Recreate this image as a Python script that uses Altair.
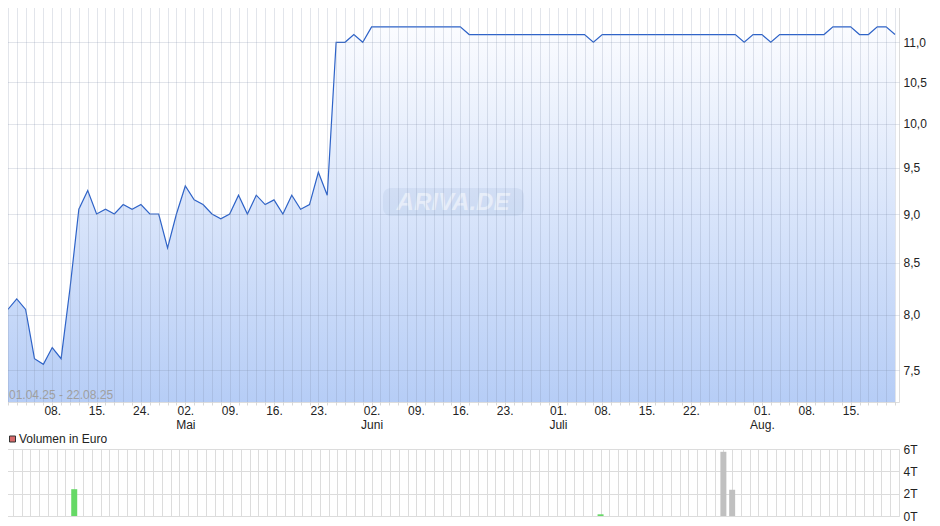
import altair as alt
import pandas as pd

# ---- data ----
price = [8.05, 8.15, 8.05, 7.60, 7.55, 7.70, 7.60, 8.25, 9.05, 9.25,
         9.00, 9.05, 9.00, 9.10, 9.05, 9.10, 9.00, 9.00, 8.65, 9.00,
         9.30, 9.15, 9.10, 9.00, 8.95, 9.00, 9.20, 9.00, 9.20, 9.10,
         9.15, 9.00, 9.20, 9.05, 9.10, 9.45, 9.20, 11.00, 11.00, 11.10,
         11.00, 11.20, 11.20, 11.20, 11.20, 11.20, 11.20, 11.20, 11.20, 11.20,
         11.20, 11.20, 11.10, 11.10, 11.10, 11.10, 11.10, 11.10, 11.10, 11.10,
         11.10, 11.10, 11.10, 11.10, 11.10, 11.10, 11.00, 11.10, 11.10, 11.10,
         11.10, 11.10, 11.10, 11.10, 11.10, 11.10, 11.10, 11.10, 11.10, 11.10,
         11.10, 11.10, 11.10, 11.00, 11.10, 11.10, 11.00, 11.10, 11.10, 11.10,
         11.10, 11.10, 11.10, 11.20, 11.20, 11.20, 11.10, 11.10, 11.20, 11.20,
         11.10]

vol_idx = [7, 67, 81, 82]
vol_val = [2.4, 0.15, 5.75, 2.35]   # thousand euro

tick_idx = [5, 10, 15, 20, 25, 30, 35, 41, 46, 51, 56, 62, 67, 72, 77, 85, 90, 95]
tick_day = ['08.', '15.', '24.', '02.', '09.', '16.', '23.', '02.', '09.', '16.',
            '23.', '01.', '08.', '15.', '22.', '01.', '08.', '15.']
month_idx = [20, 41, 62, 85]
month_name = ['Mai', 'Juni', 'Juli', 'Aug.']

y_ticks = [7.5, 8.0, 8.5, 9.0, 9.5, 10.0, 10.5, 11.0]
vol_ticks = [0, 2, 4, 6]

date_range = '01.04.25 - 22.08.25'

# ---- build tables ----
n = len(price)
df = pd.DataFrame({'i': list(range(n)), 'price': price})
df['base'] = 7.225

cols = []
for k in vol_idx:
    if price[k] > price[k - 1]:
        cols.append('#66d966')
    elif price[k] < price[k - 1]:
        cols.append('#e06060')
    else:
        cols.append('#c0c0c0')
vdf = pd.DataFrame({'i': vol_idx, 'v': vol_val, 'col': cols})

parts = []
for k, d in zip(tick_idx, tick_day):
    if k in month_idx:
        m = month_name[month_idx.index(k)]
        parts.append(f"datum.value == {k} ? ['{d}', '{m}'] : ")
    else:
        parts.append(f"datum.value == {k} ? '{d}' : ")
label_expr = ''.join(parts) + "''"

FONT = 'Liberation Sans'
W = 896
xdom = [-0.55, 100.45]
all_idx = list(range(n))

xscale = alt.Scale(domain=xdom, nice=False, zero=False)

x_axis_price = alt.Axis(values=all_idx, labelExpr=label_expr, labelOverlap=False,
                        grid=True, gridColor='#7a88a4', gridOpacity=0.22,
                        tickColor='#d8d8d8', tickSize=3, domain=False,
                        labelPadding=0, labelFont=FONT, labelFontSize=12,
                        labelColor='#222', labelLineHeight=14, title=None,
                        zindex=1, labelFlush=False, labelBound=False)
y_axis_price = alt.Axis(orient='right', values=y_ticks,
                        labelExpr="replace(format(datum.value, '.1f'), '.', ',')",
                        grid=True, gridColor='#7a88a4', gridOpacity=0.22,
                        ticks=False, domain=False, labelPadding=4,
                        labelFont=FONT, labelFontSize=12, labelColor='#222',
                        title=None, zindex=1)
yscale = alt.Scale(type='log', domain=[7.225, 11.49], nice=False)

base = alt.Chart(df).encode(
    x=alt.X('i:Q', scale=xscale, axis=x_axis_price),
    y=alt.Y('price:Q', scale=yscale, axis=y_axis_price),
)

area = base.mark_area(
    color=alt.Gradient(gradient='linear',
                       stops=[alt.GradientStop(color='#b6cdf6', offset=0),
                              alt.GradientStop(color='#fbfcff', offset=1)],
                       x1=1, x2=1, y1=1, y2=0),
    clip=True
).encode(y2='base:Q')

line = base.mark_line(color='#2e63c8', strokeWidth=1.2, clip=True)

wm = pd.DataFrame({'t': ['ARIVA.DE']})
wm_rect = alt.Chart(wm).mark_rect(color='#8fa6cf', opacity=0.15, cornerRadius=8).encode(
    x=alt.value(380), x2=alt.value(521), y=alt.value(183), y2=alt.value(211))
wm_text = alt.Chart(wm).mark_text(font=FONT, fontSize=24, fontStyle='italic',
                                  fontWeight='bold', color='white', opacity=0.5,
                                  align='center', baseline='middle').encode(
    x=alt.value(450), y=alt.value(198), text='t:N')

dr = pd.DataFrame({'t': [date_range]})
dr_text = alt.Chart(dr).mark_text(font=FONT, fontSize=12, color='#a0a0a0',
                                  align='left', baseline='middle').encode(
    x=alt.value(6), y=alt.value(390), text='t:N')

price_chart = alt.layer(area, wm_rect, wm_text, line, dr_text).properties(width=W, height=397)

# ---- volume panel ----
x_axis_vol = alt.Axis(values=all_idx, labels=False, ticks=False, domain=False,
                      grid=True, gridColor='#dcdcdc', title=None)
y_axis_vol = alt.Axis(orient='right', values=vol_ticks, labelExpr="datum.value + 'T'",
                      grid=True, gridColor='#dcdcdc', ticks=False, domain=False,
                      labelPadding=4, labelFont=FONT, labelFontSize=12,
                      labelColor='#222', title=None)

bars = alt.Chart(vdf).mark_bar(size=6).encode(
    x=alt.X('i:Q', scale=xscale, axis=x_axis_vol),
    y=alt.Y('v:Q', scale=alt.Scale(domain=[0, 6], nice=False), axis=y_axis_vol),
    color=alt.Color('col:N', scale=None)
)

leg = pd.DataFrame({'t': ['Volumen in Euro']})
leg_sq = alt.Chart(leg).mark_rect(color='#d86a6a', stroke='#333',
                                  strokeWidth=1).encode(
    x=alt.value(6.5), x2=alt.value(12.5), y=alt.value(-13), y2=alt.value(-7))
leg_txt = alt.Chart(leg).mark_text(font=FONT, fontSize=12, color='#222',
                                   align='left', baseline='middle').encode(
    x=alt.value(16), y=alt.value(-10), text='t:N')

vol_chart = alt.layer(bars, leg_sq, leg_txt).properties(width=W, height=67)

chart = alt.vconcat(price_chart, vol_chart, spacing=1).properties(
    padding={'left': -6, 'top': -4, 'right': 0, 'bottom': 0}
).configure_view(stroke='#d4d4d4').configure(background='white')

chart.save('out.html', embed_options={'renderer': 'svg', 'actions': False})
